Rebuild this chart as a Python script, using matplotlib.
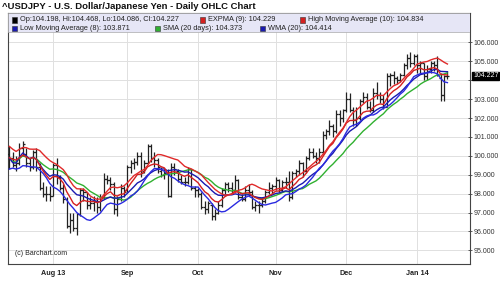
import numpy as np
import pandas as pd
import matplotlib.pyplot as plt
from matplotlib.patches import Rectangle

plt.rcParams['font.family'] = ['Liberation Sans', 'DejaVu Sans']

# trading days (Barchart skips Dec 25 and Jan 1)
dates = pd.bdate_range("2013-07-15", "2014-01-15")
dates = dates[~dates.isin(pd.to_datetime(["2013-12-25", "2014-01-01"]))]

opens = [100.1, 99.9, 99.5, 99.6, 100.4, 100.1, 99.6, 99.4, 100.2, 99.4,
         98.3, 98.0, 98.0, 97.9, 99.5, 98.9, 98.3, 97.7, 96.3, 96.6,
         96.2, 96.9, 98.2, 98.1, 97.4, 97.5, 97.6, 97.3, 97.8, 98.8,
         98.7, 98.5, 97.2, 97.7, 98.3, 98.2, 99.4, 99.6, 99.7, 100.0,
         99.2, 99.6, 100.5, 99.9, 99.8, 99.2, 99.0, 99.1, 97.9, 99.4,
         99.2, 98.8, 98.6, 98.6, 99.3, 98.3, 98.2, 98.0, 97.3, 97.2,
         97.4, 96.8, 97.0, 97.4, 98.2, 98.5, 98.3, 98.2, 98.7, 97.8,
         97.7, 98.2, 98.1, 97.3, 97.4, 97.4, 97.6, 98.1, 98.3, 98.4,
         98.7, 98.2, 98.6, 98.6, 97.8, 99.1, 99.2, 99.6, 99.2, 99.9,
         100.2, 100.0, 99.9, 100.2, 101.1, 101.3, 101.6, 101.3, 102.2, 102.0,
         102.4, 103.0, 102.4, 101.9, 102.0, 102.9, 103.1, 102.6, 102.4, 103.3,
         103.2, 103.0, 102.6, 104.2, 104.3, 104.1, 104.0, 104.3, 104.8, 105.2,
         104.9, 105.3, 104.8, 104.9, 104.2, 104.6, 104.9, 104.8, 104.1, 103.2,
         104.198]
highs = [100.5, 100.2, 100.0, 100.7, 100.8, 100.4, 99.9, 100.3, 100.4, 99.6,
         98.6, 98.4, 98.4, 99.6, 99.9, 99.0, 98.5, 97.8, 97.0, 97.0,
         97.0, 98.3, 98.3, 98.1, 97.8, 97.9, 97.8, 98.0, 99.1, 99.0,
         98.9, 98.6, 97.9, 98.5, 98.4, 99.5, 99.8, 99.9, 100.2, 100.2,
         99.8, 100.6, 100.6, 100.2, 99.9, 99.4, 99.3, 99.3, 99.6, 99.6,
         99.3, 99.0, 98.9, 99.4, 99.3, 98.4, 98.3, 98.1, 97.6, 97.6,
         97.5, 97.2, 97.6, 98.3, 98.6, 98.6, 98.6, 99.0, 98.8, 98.0,
         98.4, 98.5, 98.2, 97.6, 97.6, 97.8, 98.2, 98.6, 98.5, 98.9,
         98.8, 98.7, 98.9, 99.2, 99.2, 99.3, 99.8, 99.7, 100.0, 100.4,
         100.4, 100.2, 100.4, 101.3, 101.4, 101.9, 101.7, 102.4, 102.4, 102.5,
         103.4, 103.3, 102.6, 102.6, 103.0, 103.4, 103.3, 102.9, 103.6, 103.9,
         103.4, 103.2, 104.4, 104.4, 104.5, 104.2, 104.4, 104.9, 105.4, 105.5,
         105.4, 105.4, 105.0, 104.9, 104.8, 105.0, 105.0, 105.3, 104.4, 104.3,
         104.468]
lows = [99.3, 99.4, 99.2, 99.5, 100.0, 99.4, 99.2, 99.3, 99.2, 98.2,
        97.8, 97.6, 97.6, 97.9, 98.5, 98.2, 97.5, 96.2, 95.9, 96.0,
        95.8, 96.8, 97.6, 97.2, 97.2, 97.1, 97.0, 97.1, 97.7, 98.5,
        98.2, 96.9, 96.8, 97.6, 97.8, 98.1, 99.1, 99.3, 99.5, 98.9,
        99.1, 99.6, 99.7, 99.4, 99.1, 98.9, 98.8, 97.8, 97.8, 99.0,
        98.6, 98.5, 98.4, 98.5, 98.2, 97.8, 97.8, 97.2, 96.9, 97.0,
        96.6, 96.6, 96.9, 97.3, 98.0, 98.1, 98.0, 98.1, 97.7, 97.6,
        97.6, 97.9, 97.2, 97.1, 97.0, 97.3, 97.5, 98.0, 98.0, 98.2,
        98.1, 98.1, 98.3, 97.6, 97.7, 98.9, 99.0, 98.9, 99.1, 99.8,
        99.9, 99.6, 99.6, 100.1, 100.9, 101.1, 101.0, 101.2, 101.6, 101.8,
        102.3, 102.3, 101.6, 101.6, 101.9, 102.8, 102.5, 102.3, 102.3, 103.0,
        102.8, 102.5, 102.6, 103.7, 103.8, 103.8, 103.9, 104.2, 104.6, 104.7,
        104.8, 104.4, 104.4, 104.0, 104.0, 104.4, 104.5, 104.2, 102.9, 102.9,
        104.086]
closes = [99.9, 99.5, 99.6, 100.4, 100.6, 99.6, 99.4, 100.2, 99.4, 98.3,
          98.0, 98.0, 97.9, 99.5, 98.9, 98.3, 97.7, 96.3, 96.6, 96.2,
          96.9, 98.2, 98.1, 97.4, 97.5, 97.6, 97.3, 97.8, 98.8, 98.7,
          98.5, 97.2, 97.7, 98.3, 98.1, 99.4, 99.6, 99.7, 100.0, 99.1,
          99.6, 100.5, 99.9, 99.8, 99.4, 99.0, 99.1, 97.9, 99.4, 99.3,
          98.8, 98.6, 98.6, 99.3, 98.3, 98.2, 98.0, 97.3, 97.2, 97.5,
          96.8, 97.0, 97.4, 98.2, 98.5, 98.3, 98.2, 98.7, 97.8, 97.7,
          98.2, 98.1, 97.3, 97.4, 97.4, 97.6, 98.1, 98.3, 98.4, 98.7,
          98.2, 98.6, 98.6, 97.8, 99.1, 99.2, 99.6, 99.2, 99.9, 100.2,
          100.0, 99.9, 100.2, 101.1, 101.3, 101.6, 101.3, 102.2, 102.0, 102.4,
          103.0, 102.4, 101.9, 102.0, 102.9, 103.1, 102.6, 102.4, 103.3, 103.2,
          103.0, 102.6, 104.2, 104.3, 104.1, 104.0, 104.3, 104.8, 105.2, 104.9,
          105.3, 104.8, 104.9, 104.2, 104.6, 104.9, 104.8, 104.3, 103.2, 104.2,
          104.227]

month_labels = ["Aug 13", "Sep", "Oct", "Nov", "Dec", "Jan 14"]
legend_rows = [
    [("#000000", "Op:104.198, Hi:104.468, Lo:104.086, Cl:104.227"),
     ("#d42020", "EXPMA (9): 104.229"),
     ("#d42020", "High Moving Average (10): 104.834")],
    [("#1a1ab0", "Low Moving Average (8): 103.871"),
     ("#30b030", "SMA (20 days): 104.373"),
     ("#1a1ab0", "WMA (20): 104.414")],
]
last_price = "104.227"

df = pd.DataFrame({"o": opens, "h": highs, "l": lows, "c": closes}, index=dates)
x = np.arange(len(df))

# indicators
expma = df.c.ewm(span=9, adjust=False).mean()
hima = df.h.rolling(10, min_periods=1).mean()
loma = df.l.rolling(8, min_periods=1).mean()
sma = df.c.rolling(20, min_periods=1).mean()
def wma(s, n):
    out = []
    for i in range(len(s)):
        v = s.values[max(0, i - n + 1):i + 1]
        w = np.arange(1, len(v) + 1)
        out.append((v * w).sum() / w.sum())
    return np.array(out)
wma20 = wma(df.c, 20)

# first trading day of each month
months = df.index.to_period("M")
month_pos = [i for i in range(1, len(df)) if months[i] != months[i - 1]]

fig = plt.figure(figsize=(5, 2.93), dpi=100)
ax = fig.add_axes([0.016, 0.099, 0.924, 0.857])

ax.vlines(x, df.l, df.h, color="#222222", lw=0.9, zorder=3)
ax.hlines(df.o, x - 0.6, x, color="#222222", lw=0.9, zorder=3)
ax.hlines(df.c, x, x + 0.6, color="#222222", lw=0.9, zorder=3)

ax.plot(x, sma, color="#30b030", lw=1.0, zorder=4)
ax.plot(x, wma20, color="#1a1ab0", lw=1.0, zorder=4)
ax.plot(x, loma, color="#2a2ae0", lw=1.0, zorder=4)
ax.plot(x, expma, color="#d42020", lw=1.0, zorder=4)
ax.plot(x, hima, color="#e02a2a", lw=1.0, zorder=4)

ax.set_xlim(-0.4, 136.7)
ax.set_ylim(94.28, 107.56)
ax.set_xticks(month_pos)
ax.set_xticklabels(month_labels, fontsize=5.2, fontweight="bold", color="#222222")
ax.tick_params(axis="x", length=0, pad=4)
ax.yaxis.tick_right()
yt = np.arange(95, 107)
ax.set_yticks(yt)
# the last-price box takes the place of the 104 label
ax.set_yticklabels(["" if v == 104 else "%.3f" % v for v in yt], fontsize=5, color="#333333")
ax.tick_params(axis="y", direction="inout", length=3, width=0.6, color="#444444", pad=1)
ax.grid(color="#e0e0e0", lw=0.7, zorder=0)
for sp in ax.spines.values():
    sp.set_color("#444444")
    sp.set_linewidth(0.8)

# legend band
ax.add_patch(Rectangle((0, 0.922), 1, 0.078, transform=ax.transAxes,
                       facecolor="#e6e6f6", edgecolor="#aaaaaa", lw=0.5, zorder=5))
row_y = [0.972, 0.938]
col_x = [[0.009, 0.415, 0.632], [0.009, 0.318, 0.545]]
for r, row in enumerate(legend_rows):
    for c, (col, txt) in enumerate(row):
        ax.add_patch(Rectangle((col_x[r][c], row_y[r] - 0.011), 0.011, 0.022,
                               transform=ax.transAxes, facecolor=col,
                               edgecolor="#333333", lw=0.4, zorder=6))
        ax.text(col_x[r][c] + 0.017, row_y[r], txt, transform=ax.transAxes,
                fontsize=5.3, va="center", color="#222222", zorder=6)

fig.text(0.004, 0.978, "^USDJPY - U.S. Dollar/Japanese Yen - Daily OHLC Chart",
         fontsize=6.8, fontweight="bold", va="center", color="#111111")
ax.text(0.016, 0.04, "(c) Barchart.com", transform=ax.transAxes, fontsize=5,
        color="#222222", va="center")
ax.annotate(last_price, xy=(1, float(last_price)), xycoords=("axes fraction", "data"),
            xytext=(2.2, 0), textcoords="offset points", fontsize=5, color="white",
            va="center", bbox=dict(boxstyle="square,pad=0.1", fc="black", ec="black"))

fig.savefig("out.png", dpi=100)
